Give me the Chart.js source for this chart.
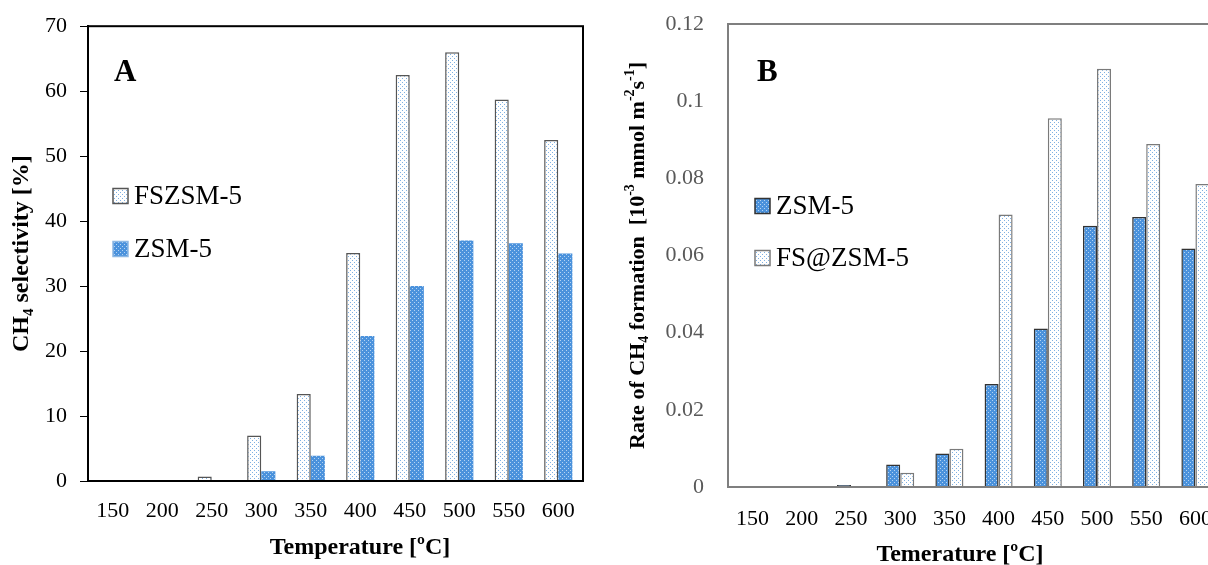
<!DOCTYPE html>
<html>
<head>
<meta charset="utf-8">
<script src="https://cdn.jsdelivr.net/npm/chart.js@4.4.1/dist/chart.umd.min.js"></script>
<style>
  html, body { margin: 0; padding: 0; background: #fff; overflow: hidden; width: 1208px; height: 565px; }
  canvas { position: absolute; top: 0; }
  #chartA { left: 0; }
  #chartB { left: 600px; }
</style>
</head>
<body>
<canvas id="chartA" width="600" height="565"></canvas>
<canvas id="chartB" width="640" height="565"></canvas>
<script>
// data
const temps = ["150", "200", "250", "300", "350", "400", "450", "500", "550", "600"];
const selFS = [0, 0, 0.7, 7.0, 13.4, 35.1, 62.5, 66.0, 58.7, 52.5];
const selZSM = [0, 0, 0, 1.5, 3.9, 22.3, 30.0, 37.0, 36.6, 35.0];
const rateZSM = [0, 0, 0.0005, 0.0058, 0.0087, 0.0267, 0.0411, 0.0677, 0.0700, 0.0618];
const rateFS = [0, 0, 0, 0.0037, 0.0099, 0.0706, 0.0956, 0.1084, 0.0889, 0.0785];

const SERIF = '"Liberation Serif", "Times New Roman", serif';
Chart.defaults.font.family = SERIF;

// dotted fills like the Excel pattern
function dotPattern(bg, dot) {
  const c = document.createElement("canvas");
  c.width = 4; c.height = 4;
  const g = c.getContext("2d");
  g.fillStyle = bg;
  g.fillRect(0, 0, 4, 4);
  g.fillStyle = dot;
  g.fillRect(0, 0, 1, 1);
  g.fillRect(2, 2, 1, 1);
  return g.createPattern(c, "repeat");
}
const lightDots = dotPattern("#ffffff", "#7fb0e2");
const blueDots = dotPattern("#4b92dc", "#b5d4f3");

function drawRich(ctx, parts, x, y, size, rot) {
  ctx.save();
  ctx.translate(x, y);
  ctx.rotate(rot);
  const small = Math.round(size * 0.62);
  const fontOf = p => `bold ${p[1] ? small : size}px ${SERIF}`;
  let w = 0;
  parts.forEach(p => { ctx.font = fontOf(p); w += ctx.measureText(p[0]).width; });
  let cx = -w / 2;
  ctx.textBaseline = "middle";
  ctx.fillStyle = "#000";
  parts.forEach(p => {
    ctx.font = fontOf(p);
    const dy = p[1] === "sub" ? size * 0.3 : p[1] === "sup" ? -size * 0.33 : 0;
    ctx.fillText(p[0], cx, dy);
    cx += ctx.measureText(p[0]).width;
  });
  ctx.restore();
}

// frame, panel letter, legend and axis titles
const overlay = {
  id: "overlay",
  afterDraw(chart, args, o) {
    const { ctx, chartArea: a } = chart;
    ctx.save();
    ctx.strokeStyle = o.boxColor;
    ctx.lineWidth = 2;
    ctx.strokeRect(a.left, a.top, a.right - a.left, a.bottom - a.top);

    ctx.fillStyle = "#000";
    ctx.font = `bold 31px ${SERIF}`;
    ctx.textBaseline = "alphabetic";
    ctx.fillText(o.letter, o.letterX, o.letterY);

    ctx.font = `27px ${SERIF}`;
    ctx.textBaseline = "middle";
    chart.data.datasets.forEach((ds, i) => {
      const y = o.legendY + i * o.legendGap;
      ctx.fillStyle = ds.backgroundColor;
      ctx.fillRect(o.legendX, y - 7.5, 15, 15);
      ctx.strokeStyle = ds.borderWidth ? ds.borderColor : "#8db8e4";
      ctx.lineWidth = 1.5;
      ctx.strokeRect(o.legendX, y - 7.5, 15, 15);
      ctx.fillStyle = "#000";
      ctx.fillText(ds.label, o.legendX + 21, y + 1);
    });

    drawRich(ctx, o.yTitle, o.yTitleX, (a.top + a.bottom) / 2, o.yTitleSize, -Math.PI / 2);
    drawRich(ctx, o.xTitle, o.xTitleX, o.xTitleY, 24, 0);
    ctx.restore();
  }
};

function makeChart(id, datasets, y, area, o, tickColor, tickMarks) {
  return new Chart(document.getElementById(id), {
    type: "bar",
    data: { labels: temps, datasets },
    plugins: [overlay],
    options: {
      responsive: false,
      animation: false,
      categoryPercentage: 0.57,
      barPercentage: 1.0,
      layout: { padding: { top: area.top, right: area.right, left: 0, bottom: 0 } },
      plugins: { legend: { display: false }, tooltip: { enabled: false }, overlay: o },
      scales: {
        x: {
          afterFit: s => { s.height = area.xh; },
          grid: { display: false },
          border: { color: o.boxColor, width: 2 },
          ticks: { color: "#000", font: { size: 22 }, padding: area.xpad, maxRotation: 0 }
        },
        y: {
          min: y.min, max: y.max,
          afterFit: s => { s.width = area.yw; },
          grid: {
            drawOnChartArea: false, tickLength: area.tl, width: 2,
            color: tickMarks ? "#000" : "rgba(0,0,0,0)"
          },
          border: { color: o.boxColor, width: 2 },
          ticks: {
            stepSize: y.step, color: tickColor, font: { size: 22 }, padding: area.ypad,
            callback: v => String(+v.toFixed(2))
          }
        }
      }
    }
  });
}

makeChart("chartA", [
  { label: "FSZSM-5", data: selFS, backgroundColor: lightDots, borderColor: "#555555", borderWidth: 1.5 },
  { label: "ZSM-5", data: selZSM, backgroundColor: blueDots, borderColor: "#4b92dc", borderWidth: 0 }
], { min: 0, max: 70, step: 10 },
{ top: 25, right: 17, xh: 84, yw: 88, xpad: 9, tl: 8, ypad: 13 },
{
  boxColor: "#000", letter: "A", letterX: 114, letterY: 81,
  legendX: 113, legendY: 196, legendGap: 53,
  yTitle: [["CH"], ["4", "sub"], [" selectivity [%]"]], yTitleX: 22, yTitleSize: 24,
  xTitle: [["Temperature [\u00baC]"]], xTitleX: 360, xTitleY: 548
}, "#000", true);

makeChart("chartB", [
  { label: "ZSM-5", data: rateZSM, backgroundColor: blueDots, borderColor: "#333333", borderWidth: 1.5 },
  { label: "FS@ZSM-5", data: rateFS, backgroundColor: lightDots, borderColor: "#7a7a7a", borderWidth: 1.5 }
], { min: 0, max: 0.12, step: 0.02 },
{ top: 24, right: 20, xh: 78, yw: 128, xpad: 11, tl: 14, ypad: 10 },
{
  boxColor: "#7f7f7f", letter: "B", letterX: 157, letterY: 81,
  legendX: 155, legendY: 206, legendGap: 52,
  yTitle: [["Rate of CH"], ["4", "sub"], [" formation  [10"], ["-3", "sup"], [" mmol m"], ["-2", "sup"], ["s"], ["-1", "sup"], ["]"]],
  yTitleX: 38, yTitleSize: 22,
  xTitle: [["Temerature [\u00baC]"]], xTitleX: 360, xTitleY: 555
}, "#595959", false);
</script>
</body>
</html>
